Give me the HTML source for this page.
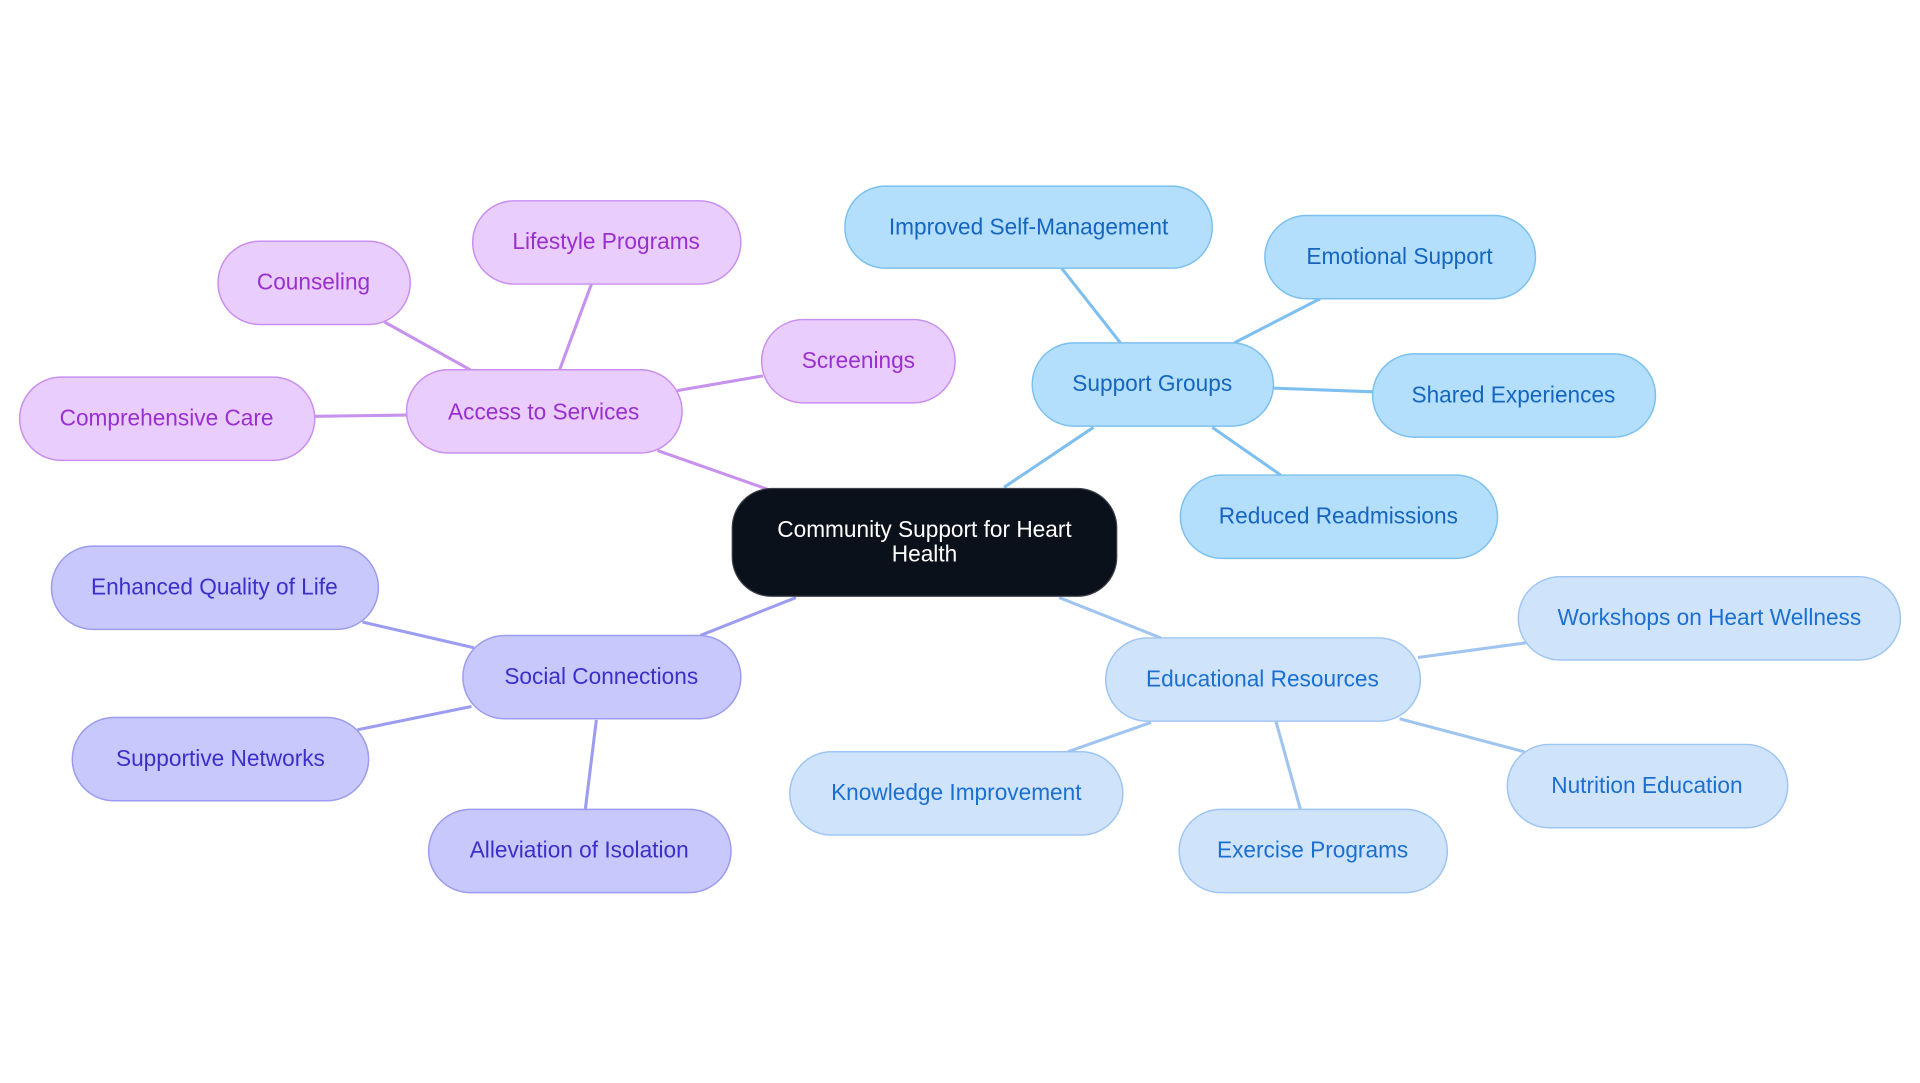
<!DOCTYPE html>
<html><head><meta charset="utf-8"><style>
html,body{margin:0;padding:0;background:#fff;}
svg{display:block;}
text{font-family:"Liberation Sans",sans-serif;font-size:18.5px;text-anchor:middle;dominant-baseline:central;}
</style></head><body>
<svg width="1920" height="1083" viewBox="0 0 1568 884.5" xmlns="http://www.w3.org/2000/svg">
<g stroke-width="2.5" fill="none">
<g stroke="#c792ee">
<line x1="537" y1="368" x2="628" y2="400"/>
<line x1="457" y1="302" x2="483" y2="232"/>
<line x1="384" y1="302" x2="314" y2="263"/>
<line x1="553" y1="319" x2="623" y2="307"/>
<line x1="332" y1="339" x2="257" y2="340"/>
</g>
<g stroke="#7dbff0">
<line x1="820" y1="398" x2="893" y2="349"/>
<line x1="915" y1="280" x2="867" y2="219"/>
<line x1="1008" y1="280" x2="1078" y2="244"/>
<line x1="1040" y1="317" x2="1121" y2="320"/>
<line x1="990" y1="349" x2="1046" y2="388"/>
</g>
<g stroke="#a0c4f0">
<line x1="865" y1="488" x2="948" y2="521"/>
<line x1="1158" y1="537" x2="1246" y2="525"/>
<line x1="1143" y1="587" x2="1245" y2="614"/>
<line x1="1042" y1="589" x2="1062" y2="661"/>
<line x1="940" y1="590" x2="872" y2="614"/>
</g>
<g stroke="#9c9cf0">
<line x1="650" y1="488" x2="572" y2="519"/>
<line x1="387" y1="529" x2="296" y2="508"/>
<line x1="385" y1="577" x2="292" y2="596"/>
<line x1="487" y1="588" x2="478" y2="661"/>
</g>
</g>
<!-- central -->
<rect x="598" y="399" width="314" height="88" rx="32" fill="#0b111b" stroke="#3a3f47" stroke-width="1"/>
<text x="755" y="432" fill="#fff">Community Support for Heart</text>
<text x="755" y="452" fill="#fff">Health</text>
<!-- blue -->
<g fill="#b3dffc" stroke="#7cc0f0" stroke-width="1.2">
<rect x="843" y="280" width="197" height="68" rx="34"/>
<rect x="690" y="152" width="300" height="67" rx="33"/>
<rect x="1033" y="176" width="221" height="68" rx="34"/>
<rect x="1121" y="289" width="231" height="68" rx="34"/>
<rect x="964" y="388" width="259" height="68" rx="34"/>
</g>
<g fill="#1565c0">
<text x="941" y="313">Support Groups</text>
<text x="840" y="185">Improved Self-Management</text>
<text x="1143" y="209">Emotional Support</text>
<text x="1236" y="322">Shared Experiences</text>
<text x="1093" y="421">Reduced Readmissions</text>
</g>
<!-- light blue -->
<g fill="#cfe3fb" stroke="#9ec5f2" stroke-width="1.2">
<rect x="903" y="521" width="257" height="68" rx="34"/>
<rect x="1240" y="471" width="312" height="68" rx="34"/>
<rect x="1231" y="608" width="229" height="68" rx="34"/>
<rect x="963" y="661" width="219" height="68" rx="34"/>
<rect x="645" y="614" width="272" height="68" rx="34"/>
</g>
<g fill="#1a6fd0">
<text x="1031" y="554">Educational Resources</text>
<text x="1396" y="504">Workshops on Heart Wellness</text>
<text x="1345" y="641">Nutrition Education</text>
<text x="1072" y="694">Exercise Programs</text>
<text x="781" y="647">Knowledge Improvement</text>
</g>
<!-- purple -->
<g fill="#e9cdfc" stroke="#c98ef0" stroke-width="1.2">
<rect x="332" y="302" width="225" height="68" rx="34"/>
<rect x="386" y="164" width="219" height="68" rx="34"/>
<rect x="178" y="197" width="157" height="68" rx="34"/>
<rect x="622" y="261" width="158" height="68" rx="34"/>
<rect x="16" y="308" width="241" height="68" rx="34"/>
</g>
<g fill="#9a2fd0">
<text x="444" y="336">Access to Services</text>
<text x="495" y="197">Lifestyle Programs</text>
<text x="256" y="230">Counseling</text>
<text x="701" y="294">Screenings</text>
<text x="136" y="341">Comprehensive Care</text>
</g>
<!-- indigo -->
<g fill="#c8c8fc" stroke="#9b9bf0" stroke-width="1.2">
<rect x="378" y="519" width="227" height="68" rx="34"/>
<rect x="42" y="446" width="267" height="68" rx="34"/>
<rect x="59" y="586" width="242" height="68" rx="34"/>
<rect x="350" y="661" width="247" height="68" rx="34"/>
</g>
<g fill="#3b2fc9">
<text x="491" y="552">Social Connections</text>
<text x="175" y="479">Enhanced Quality of Life</text>
<text x="180" y="619">Supportive Networks</text>
<text x="473" y="694">Alleviation of Isolation</text>
</g>
</svg>
</body></html>
